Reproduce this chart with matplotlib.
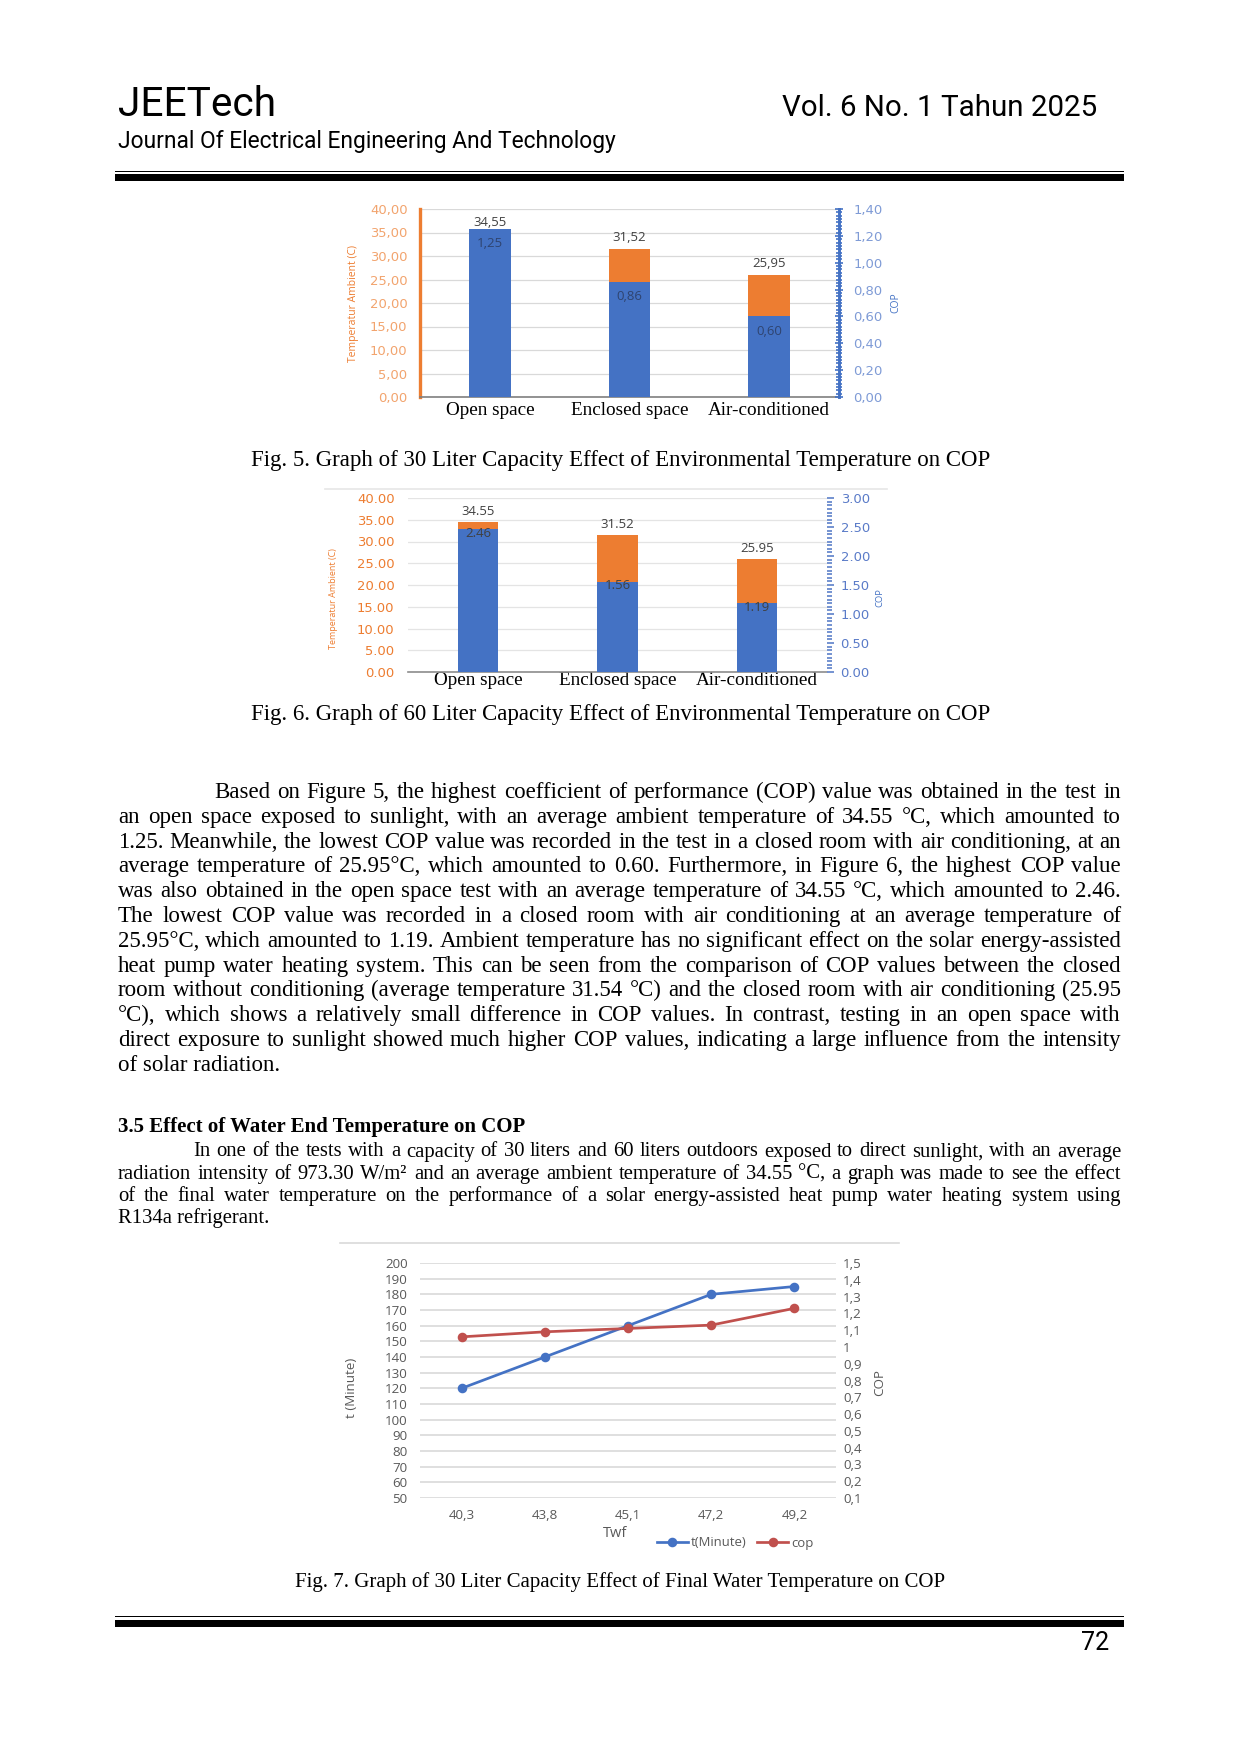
import numpy as np
import matplotlib
matplotlib.use("Agg")
import matplotlib.pyplot as plt
from matplotlib.patches import Rectangle
from matplotlib.lines import Line2D
from matplotlib.ticker import MultipleLocator, FixedLocator

# --- data ---
locations = ['Open space', 'Enclosed space', 'Air-conditioned']
temp_ambient = [34.55, 31.52, 25.95]
cop_30l = [1.25, 0.86, 0.60]
cop_60l = [2.46, 1.56, 1.19]

twf_labels = ['40,3', '43,8', '45,1', '47,2', '49,2']
t_minute = [120, 140, 160, 180, 185]
cop_twf = [1.06, 1.09, 1.11, 1.13, 1.23]

para1 = [
    "Based on Figure 5, the highest coefficient of performance (COP) value was obtained in the test in",
    "an open space exposed to sunlight, with an average ambient temperature of 34.55 °C, which amounted to",
    "1.25. Meanwhile, the lowest COP value was recorded in the test in a closed room with air conditioning, at an",
    "average temperature of 25.95°C, which amounted to 0.60. Furthermore, in Figure 6, the highest COP value",
    "was also obtained in the open space test with an average temperature of 34.55 °C, which amounted to 2.46.",
    "The lowest COP value was recorded in a closed room with air conditioning at an average temperature of",
    "25.95°C, which amounted to 1.19. Ambient temperature has no significant effect on the solar energy-assisted",
    "heat pump water heating system. This can be seen from the comparison of COP values between the closed",
    "room without conditioning (average temperature 31.54 °C) and the closed room with air conditioning (25.95",
    "°C), which shows a relatively small difference in COP values. In contrast, testing in an open space with",
    "direct exposure to sunlight showed much higher COP values, indicating a large influence from the intensity",
    "of solar radiation.",
]
para2 = [
    "In one of the tests with a capacity of 30 liters and 60 liters outdoors exposed to direct sunlight, with an average",
    "radiation intensity of 973.30 W/m² and an average ambient temperature of 34.55 °C, a graph was made to see the effect",
    "of the final water temperature on the performance of a solar energy-assisted heat pump water heating system using",
    "R134a refrigerant.",
]

ORANGE = '#ED7D31'
BLUE = '#4472C4'
RED = '#C0504D'
SERIF = ['Liberation Serif', 'DejaVu Serif']
SANS = ['Open Sans', 'DejaVu Sans']
HEAD = ['Roboto', 'DejaVu Sans']

W, H = 1241, 1753
DPI = 150
fig = plt.figure(figsize=(W / DPI, H / DPI), dpi=DPI)
fig.patch.set_facecolor('white')

# page layer in pixel coordinates
page = fig.add_axes([0, 0, 1, 1])
page.set_xlim(0, W)
page.set_ylim(H, 0)
page.axis('off')


def box(x0, y0, x1, y1):
    return [x0 / W, 1 - y1 / H, (x1 - x0) / W, (y1 - y0) / H]


# header
page.text(118, 116, 'JEETech', fontsize=19.5, family=HEAD, va='baseline')
page.text(1097, 116, 'Vol. 6 No. 1 Tahun 2025', fontsize=14.2, family=HEAD, va='baseline', ha='right')
page.text(118, 148, 'Journal Of Electrical Engineering And Technology', fontsize=10.9, family=HEAD, va='baseline')
page.add_patch(Rectangle((115, 170.5), 1009, 1.8, color='black', lw=0))
page.add_patch(Rectangle((115, 174), 1009, 7, color='black', lw=0))

# footer
page.add_patch(Rectangle((115, 1615.5), 1009, 1.8, color='black', lw=0))
page.add_patch(Rectangle((115, 1619.5), 1009, 7, color='black', lw=0))
page.text(1095, 1643, '72', fontsize=12, family=HEAD, va='center', ha='center')

renderer = fig.canvas.get_renderer()


def justify(lines, x0, x1, base, dy, size, indent, weight='normal'):
    for i, line in enumerate(lines):
        y = base + i * dy
        xs = x0 + (indent if i == 0 else 0)
        if i == len(lines) - 1:
            page.text(xs, y, line, fontsize=size, family=SERIF, va='baseline', weight=weight)
            continue
        words = line.split(' ')
        arts = [page.text(0, y, w, fontsize=size, family=SERIF, va='baseline', weight=weight) for w in words]
        widths = [a.get_window_extent(renderer).width for a in arts]
        gap = (x1 - xs - sum(widths)) / (len(words) - 1)
        x = xs
        for a, wd in zip(arts, widths):
            a.set_x(x)
            x += wd + gap


justify(para1, 118, 1121, 798, 24.8, 11, 96)
page.text(118, 1132, '3.5 Effect of Water End Temperature on COP', fontsize=10, family=SERIF,
          weight='bold', va='baseline')
justify(para2, 118, 1121, 1156.5, 22.3, 9.9, 75)

captions = [
    (466, 11, 621, 'Fig. 5. Graph of 30 Liter Capacity Effect of Environmental Temperature on COP'),
    (720, 11, 621, 'Fig. 6. Graph of 60 Liter Capacity Effect of Environmental Temperature on COP'),
    (1587, 10, 620, 'Fig. 7. Graph of 30 Liter Capacity Effect of Final Water Temperature on COP'),
]
for y, size, xc, txt in captions:
    page.text(xc, y, txt, fontsize=size, family=SERIF, ha='center', va='baseline')

# chart frames (thin grey top borders of the pasted charts)
page.add_line(Line2D([325, 887], [489, 489], color='#E6E6E6', lw=0.8))
page.add_line(Line2D([340, 899], [1243, 1243], color='#D9D9D9', lw=0.8))

x = np.arange(len(locations))


def comma(v, fmt='{:.2f}'):
    return fmt.format(v).replace('.', ',')


# ---------------- Fig. 5 ----------------
ax = fig.add_axes(box(420, 209, 839, 397))
ax.set_xlim(-0.5, 2.5)
ax.set_ylim(0, 40)
ax.bar(x, temp_ambient, width=0.3, color=ORANGE, zorder=2)
ax.set_axisbelow(True)
ax.yaxis.grid(True, color='#D9D9D9', lw=0.6)
ax.set_yticks(np.arange(0, 41, 5))
ax.set_yticklabels([comma(v) for v in np.arange(0, 41, 5)])
ax.tick_params(axis='y', length=0, labelcolor='#F2A46E', labelsize=6.3, pad=6)
ax.set_xticks(x)
ax.set_xticklabels(locations, family=SERIF, fontsize=9.2)
ax.tick_params(axis='x', length=0, pad=2.5)
for s in ['top', 'right']:
    ax.spines[s].set_visible(False)
ax.spines['left'].set_color(ORANGE)
ax.spines['left'].set_linewidth(1.6)
ax.spines['bottom'].set_color('#7F7F7F')
ax.spines['bottom'].set_linewidth(0.8)
ax.set_ylabel('Temperatur Ambient (C)', color=ORANGE, fontsize=5, family=SANS)
ax.yaxis.set_label_coords(-0.146, 0.5)
for xi, t in zip(x, temp_ambient):
    ax.annotate(comma(t), (xi, t), xytext=(0, 2.5), textcoords='offset points', ha='center',
                va='bottom', fontsize=6.3, color='#404040', family=SANS)

ax2 = ax.twinx()
ax2.set_ylim(0, 1.4)
ax2.bar(x, cop_30l, width=0.3, color=BLUE, zorder=2)
ax2.set_yticks(np.arange(0, 1.41, 0.2))
ax2.set_yticklabels([comma(v) for v in np.arange(0, 1.41, 0.2)])
ax2.yaxis.set_minor_locator(MultipleLocator(0.025))
ax2.tick_params(axis='y', which='both', direction='inout', color=BLUE, width=0.8)
ax2.tick_params(axis='y', which='major', length=4, labelcolor='#7F9BD6', labelsize=6.3, pad=5)
ax2.tick_params(axis='y', which='minor', length=2.5)
for s in ['top', 'left', 'bottom']:
    ax2.spines[s].set_visible(False)
ax2.spines['right'].set_color(BLUE)
ax2.spines['right'].set_linewidth(1.4)
ax2.set_ylabel('COP', color=BLUE, fontsize=5, family=SANS)
ax2.yaxis.set_label_coords(1.122, 0.5)
for xi, c in zip(x, cop_30l):
    ax2.annotate(comma(c), (xi, c), xytext=(0, -4), textcoords='offset points', ha='center',
                 va='top', fontsize=6.3, color='#2F4470', family=SANS)

# ---------------- Fig. 6 ----------------
bx = fig.add_axes(box(408, 498, 827, 672))
bx.set_xlim(-0.5, 2.5)
bx.set_ylim(0, 40)
bx.bar(x, temp_ambient, width=0.29, color=ORANGE, zorder=2)
bx.set_axisbelow(True)
bx.yaxis.grid(True, color='#E4E4E4', lw=0.6)
bx.set_yticks(np.arange(0, 41, 5))
bx.set_yticklabels(['{:.2f}'.format(v) for v in np.arange(0, 41, 5)])
bx.tick_params(axis='y', length=0, labelcolor=ORANGE, labelsize=6.3, pad=6.5)
bx.set_xticks(x)
bx.set_xticklabels(locations, family=SERIF, fontsize=9.2)
bx.tick_params(axis='x', length=0, pad=0)
for s in ['top', 'right', 'left']:
    bx.spines[s].set_visible(False)
bx.spines['bottom'].set_color('#8C8C8C')
bx.spines['bottom'].set_linewidth(0.8)
bx.set_ylabel('Temperatur Ambient (C)', color=ORANGE, fontsize=4.3, family=SANS)
bx.yaxis.set_label_coords(-0.166, 0.42)
for xi, t in zip(x, temp_ambient):
    bx.annotate('{:.2f}'.format(t), (xi, t), xytext=(0, 2), textcoords='offset points', ha='center',
                va='bottom', fontsize=6.3, color='#404040', family=SANS)

bx2 = bx.twinx()
bx2.set_ylim(0, 3.0)
bx2.bar(x, cop_60l, width=0.29, color=BLUE, zorder=2)
bx2.set_yticks(np.arange(0, 3.01, 0.5))
bx2.set_yticklabels(['{:.2f}'.format(v) for v in np.arange(0, 3.01, 0.5)])
bx2.yaxis.set_minor_locator(MultipleLocator(0.0625))
bx2.tick_params(axis='y', which='both', direction='out', color='#6F8FD0', width=0.9)
bx2.tick_params(axis='y', which='major', length=3.5, labelcolor='#5A7BC8', labelsize=6.3, pad=3)
bx2.tick_params(axis='y', which='minor', length=2.2)
for s in bx2.spines.values():
    s.set_visible(False)
bx2.set_ylabel('COP', color=BLUE, fontsize=4.5, family=SANS)
bx2.yaxis.set_label_coords(1.115, 0.43)
for xi, c in zip(x, cop_60l):
    bx2.annotate('{:.2f}'.format(c), (xi, c), xytext=(0, -2), textcoords='offset points', ha='center',
                 va='center', fontsize=6.3, color='#404040', family=SANS)

# ---------------- Fig. 7 ----------------
xt = np.arange(len(twf_labels))
cx = fig.add_axes(box(420, 1263, 836, 1498))
cx.set_xlim(-0.5, 4.5)
cx.set_ylim(50, 200)
cx.set_yticks(np.arange(50, 201, 10))
cx.yaxis.grid(True, color='#D9D9D9', lw=0.8)
cx.set_axisbelow(True)
cx.set_xticks(xt)
cx.set_xticklabels(twf_labels)
cx.tick_params(length=0, labelsize=6.4, labelcolor='#595959')
cx.tick_params(axis='y', pad=6)
cx.tick_params(axis='x', pad=5.5)
for s in cx.spines.values():
    s.set_visible(False)
for lab in cx.get_xticklabels() + cx.get_yticklabels():
    lab.set_family(SANS)
l1, = cx.plot(xt, t_minute, color=BLUE, lw=1.3, marker='o', ms=3.6, label='t(Minute)', zorder=3)
cx.set_ylabel('t (Minute)', fontsize=6.4, color='#595959', family=SANS)
cx.yaxis.set_label_coords(-0.15, 0.47)
cx.set_xlabel('Twf', fontsize=7, color='#595959', family=SANS)
cx.xaxis.set_label_coords(0.47, -0.118)

cx2 = cx.twinx()
cx2.set_ylim(0.1, 1.5)
cop_ticks = np.round(np.arange(0.1, 1.51, 0.1), 1)
cx2.yaxis.set_major_locator(FixedLocator(cop_ticks))
cx2.set_yticklabels([comma(v, '{:g}') for v in cop_ticks])
cx2.tick_params(length=0, labelsize=6.4, labelcolor='#595959', pad=3.5)
for lab in cx2.get_yticklabels():
    lab.set_family(SANS)
for s in cx2.spines.values():
    s.set_visible(False)
l2, = cx2.plot(xt, cop_twf, color=RED, lw=1.3, marker='o', ms=3.6, label='cop', zorder=3)
cx2.set_ylabel('COP', fontsize=6.4, color='#595959', family=SANS)
cx2.yaxis.set_label_coords(1.09, 0.49)
cx2.legend(handles=[l1, l2], loc='center', bbox_to_anchor=(735 / W, 1 - 1543 / H),
           bbox_transform=fig.transFigure, ncol=2, frameon=False, handlelength=2.4,
           handletextpad=0.2, columnspacing=0.8, prop={'family': SANS, 'size': 6.3},
           labelcolor='#595959')

fig.savefig('out.png', dpi=DPI)
